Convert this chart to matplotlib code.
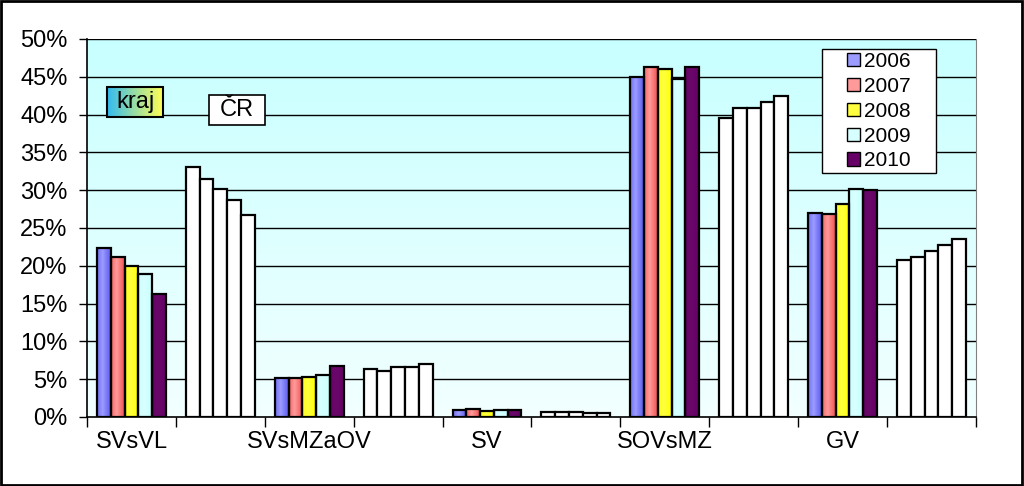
import matplotlib
matplotlib.use("Agg")
import matplotlib.pyplot as plt
import numpy as np
from matplotlib.patches import Rectangle, Patch
from matplotlib.colors import to_rgb

plt.rcParams['font.family'] = ['Liberation Sans', 'DejaVu Sans']

categories = ["SVsVL", "SVsMZaOV", "SV", "SOVsMZ", "GV"]
years = ["2006", "2007", "2008", "2009", "2010"]
# kraj values (%) per year, across categories
kraj = {
    "2006": [22.4, 5.2, 0.9, 44.9, 27.0],
    "2007": [21.1, 5.2, 1.05, 46.3, 26.8],
    "2008": [20.0, 5.3, 0.8, 46.0, 28.2],
    "2009": [18.9, 5.6, 0.9, 44.7, 30.2],
    "2010": [16.3, 6.8, 0.9, 46.3, 30.0],
}
# ČR values (%)
cr = {
    "2006": [33.1, 6.3, 0.65, 39.5, 20.8],
    "2007": [31.5, 6.1, 0.65, 40.9, 21.2],
    "2008": [30.2, 6.6, 0.65, 40.9, 22.0],
    "2009": [28.7, 6.6, 0.5, 41.7, 22.7],
    "2010": [26.7, 7.0, 0.5, 42.4, 23.6],
}
# (edge colour, centre colour) for horizontal gradient
year_colors = {
    "2006": ("#5a5af0", "#9c9cff"),
    "2007": ("#f25050", "#ff9a9a"),
    "2008": ("#ffff00", "#ffff40"),
    "2009": ("#c8ffff", "#d8ffff"),
    "2010": ("#660066", "#6a086a"),
}

fig = plt.figure(figsize=(10.24, 4.86), dpi=100)
ax = fig.add_axes([0.085, 0.142, 0.868, 0.778])

# background gradient
bg = np.linspace(0, 1, 100)[:, None]
top = np.array(to_rgb("#c8ffff"))
bot = np.array(to_rgb("#f2ffff"))
bgimg = (top[None, None, :] * (1 - bg[..., None]) + bot[None, None, :] * bg[..., None])
ax.imshow(bgimg, extent=[0, 1, 0, 1], transform=ax.transAxes, aspect='auto', zorder=0)

for y in range(5, 55, 5):
    ax.axhline(y, color="black", lw=1.0, zorder=1)

w = 0.155
def grad(c_edge, c_mid, n=40):
    e = np.array(to_rgb(c_edge)); m = np.array(to_rgb(c_mid))
    t = np.linspace(0, 1, n)
    f = np.clip(1 - np.abs(t - 0.4) / 0.6, 0, 1)[:, None]
    arr = e * (1 - f) + m * f
    return arr[None, :, :]

for j, yr in enumerate(years):
    xk = np.arange(len(categories)) * 2 + (j - 2) * w
    xc = np.arange(len(categories)) * 2 + 1 + (j - 2) * w
    ce, cm = year_colors[yr]
    g = grad(ce, cm)
    for x, v in zip(xk, kraj[yr]):
        ax.imshow(g, extent=[x - w / 2, x + w / 2, 0, v], aspect='auto', zorder=2)
    ax.bar(xk, kraj[yr], width=w, fill=False, edgecolor="black", lw=1.6, zorder=3)
    ax.bar(xc, cr[yr], width=w, color="white", edgecolor="black", lw=1.6, zorder=3)

ax.set_xlim(-0.5, 9.5)
ax.set_ylim(0, 50)
ax.set_yticks(range(0, 55, 5))
ax.set_yticklabels([f"{v}%" for v in range(0, 55, 5)], fontsize=17)
ax.set_xticks(np.arange(0, 10, 2))
ax.set_xticklabels(categories, fontsize=17)
ax.set_xticks(np.arange(-0.5, 10, 1), minor=True)
ax.tick_params(axis='x', which='major', length=0, pad=10)
ax.tick_params(axis='x', which='minor', length=7, width=1, direction='out')
ax.tick_params(axis='y', length=6, width=1, direction='out', pad=8)
ax.spines["top"].set_visible(False)
ax.spines["right"].set_color("#808080")
ax.spines["left"].set_linewidth(1.2)
ax.spines["bottom"].set_linewidth(1.2)

# kraj box with gradient
kx0, kx1, ky0, ky1 = -0.275, 0.355, 39.7, 43.65
kg = np.linspace(0, 1, 50)
c1 = np.array(to_rgb("#33bbf0")); c2 = np.array(to_rgb("#ffff55"))
kimg = (c1[None, :] * (1 - kg[:, None]) + c2[None, :] * kg[:, None])[None, :, :]
ax.imshow(kimg, extent=[kx0, kx1, ky0, ky1], aspect='auto', zorder=4)
ax.add_patch(Rectangle((kx0, ky0), kx1 - kx0, ky1 - ky0, fill=False, edgecolor="black", lw=1.5, zorder=5))
ax.text((kx0 + kx1) / 2, (ky0 + ky1) / 2, "kraj", ha="center", va="center", fontsize=17, zorder=6)

rx0, rx1, ry0, ry1 = 0.872, 1.502, 38.6, 42.6
ax.add_patch(Rectangle((rx0, ry0), rx1 - rx0, ry1 - ry0, facecolor="white", edgecolor="black", lw=1.2, zorder=5))
ax.text((rx0 + rx1) / 2, (ry0 + ry1) / 2, "ČR", ha="center", va="center", fontsize=17, zorder=6)

ax.set_xlim(-0.5, 9.5)
ax.set_ylim(0, 50)

# legend frame
fig.patches.append(Rectangle((822 / 1024, 1 - 173 / 486), 114 / 1024, 124 / 486,
                             transform=fig.transFigure, facecolor="white",
                             edgecolor="black", lw=1.0, zorder=5))
handles = [Patch(facecolor=year_colors[y][1] if y != "2010" else year_colors[y][0], edgecolor="black", lw=1) for y in years]
leg = fig.legend(handles, years, loc="upper left", bbox_to_anchor=(847 / 1024, 1 - 52 / 486),
                 fontsize=15, frameon=False, handlelength=0.6, handleheight=0.6,
                 handletextpad=0.2, labelspacing=0.28, borderpad=0, borderaxespad=0)
leg.set_zorder(6)

fig.patches.append(Rectangle((0.001, 0.002), 0.997, 0.996, transform=fig.transFigure,
                             fill=False, edgecolor="black", lw=2))

fig.savefig("out.png", dpi=100)
